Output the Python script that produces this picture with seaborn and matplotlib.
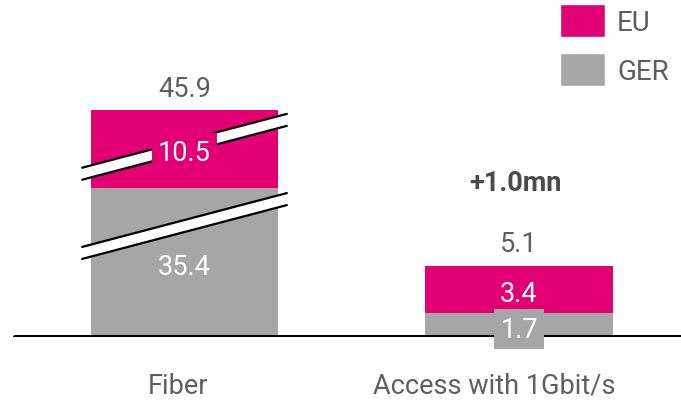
import numpy as np
import pandas as pd
import matplotlib
matplotlib.use("Agg")
import matplotlib.pyplot as plt
import matplotlib.transforms as mtransforms
from matplotlib.patches import Patch, Polygon
from matplotlib.lines import Line2D
import seaborn as sns

# ---- data -------------------------------------------------------------
categories = ["Fiber", "Access with 1Gbit/s"]
ger_values = [35.4, 1.7]
eu_values = [10.5, 3.4]
series_names = ["EU", "GER"]
growth_label = "+1.0mn"

# ---- style ------------------------------------------------------------
MAGENTA = "#E20074"
GREY = "#A6A6A6"
TEXT_GREY = "#5E5E5E"

sns.set_style("white")
plt.rcParams["font.family"] = ["Roboto", "DejaVu Sans"]
plt.rcParams["font.weight"] = "normal"

W, H, DPI = 681, 402, 100
fig = plt.figure(figsize=(W / DPI, H / DPI), dpi=DPI)
BASE_PX = 64
ax = fig.add_axes([0, BASE_PX / H, 1, 1 - BASE_PX / H])
AXES_H_PX = H - BASE_PX

# ---- broken y axis: linear with two compressed gaps --------------------
PX_PER_UNIT = 14.0
GAP_PX = 12.0
breaks = [(7.5, 33.1), (37.9, 43.7)]

knot_val, knot_px = [-10.0, 0.0], [-10.0 * PX_PER_UNIT, 0.0]
for lo, hi in breaks:
    knot_px.append(knot_px[-1] + (lo - knot_val[-1]) * PX_PER_UNIT)
    knot_val.append(lo)
    knot_px.append(knot_px[-1] + GAP_PX)
    knot_val.append(hi)
knot_px.append(knot_px[-1] + (90 - knot_val[-1]) * PX_PER_UNIT)
knot_val.append(90.0)
knot_val, knot_px = np.array(knot_val), np.array(knot_px)


def to_px(v):
    return np.interp(v, knot_val, knot_px)


def from_px(p):
    return np.interp(p, knot_px, knot_val)


ax.set_yscale("function", functions=(to_px, from_px))

# ---- bars -------------------------------------------------------------
df = pd.DataFrame({"category": categories, "GER": ger_values, "EU": eu_values})
df["total"] = df["GER"] + df["EU"]

BAR_W = 0.56
sns.barplot(data=df, x="category", y="total", color=MAGENTA, saturation=1,
            width=BAR_W, errorbar=None, linewidth=0, ax=ax, zorder=2)
sns.barplot(data=df, x="category", y="GER", color=GREY, saturation=1,
            width=BAR_W, errorbar=None, linewidth=0, ax=ax, zorder=2)

ax.set_xlim(-0.5516, 1.4843)
ax.set_ylim(0, from_px(AXES_H_PX))
ax.set_xlabel("")
ax.set_ylabel("")
ax.set_yticks([])
for s in ax.spines.values():
    s.set_visible(False)

# x in data units, y in pixels above the baseline (as axes fraction)
px_tr = mtransforms.blended_transform_factory(ax.transData, ax.transAxes)


def yfrac(px):
    return px / AXES_H_PX


# baseline
ax.axhline(0, xmin=15 / W, xmax=1, color="black", lw=2.9, zorder=4)

# break markers on bars that cross a gap
SLOPE = 88.0      # px per x unit
HALF = 0.306
for i, total in enumerate(df["total"]):
    for lo, hi in breaks:
        if total <= hi:
            continue
        yc = to_px(lo) + GAP_PX / 2
        xs = np.array([i - HALF, i + HALF])
        ys = yc + SLOPE * (xs - i)
        poly = Polygon([(xs[0], yfrac(ys[0] - GAP_PX / 2)),
                        (xs[1], yfrac(ys[1] - GAP_PX / 2)),
                        (xs[1], yfrac(ys[1] + GAP_PX / 2)),
                        (xs[0], yfrac(ys[0] + GAP_PX / 2))],
                       closed=True, facecolor="white", edgecolor="none",
                       transform=px_tr, zorder=3)
        ax.add_patch(poly)
        for sgn in (-1, 1):
            ax.add_line(Line2D(xs, yfrac(ys + sgn * GAP_PX / 2),
                               color="black", lw=1.6, transform=px_tr,
                               zorder=3))

# segment labels
VAL_FS = 19.5
for i, row in df.iterrows():
    segs = [(0.0, row["GER"], GREY, row["GER"], 7),
            (row["GER"], row["total"], MAGENTA, row["EU"], 6)]
    for lo, hi, col, val, z in segs:
        mid = (to_px(lo) + to_px(hi)) / 2 - 4
        ax.text(i, yfrac(mid), f"{val:.1f}", transform=px_tr,
                ha="center", va="center", color="white", fontsize=VAL_FS,
                zorder=z,
                bbox=dict(boxstyle="square,pad=0.24", fc=col, ec="none"))
    ax.text(i, yfrac(to_px(row["total"]) + 22), f"{row['total']:.1f}",
            transform=px_tr, ha="center", va="center", color=TEXT_GREY,
            fontsize=VAL_FS, zorder=5)

ax.text(0.99, yfrac(to_px(df["total"].iloc[1]) + 83), growth_label,
        transform=px_tr, ha="center", va="center", color="#4A4A4A",
        fontsize=19.5, fontweight="bold", zorder=5)

# category labels
ax.tick_params(axis="x", length=0, pad=25, labelsize=19.5, labelcolor=TEXT_GREY)
for lbl, dx in zip(ax.get_xticklabels(), [-6.5, -25]):
    lbl.set_transform(lbl.get_transform() +
                      mtransforms.ScaledTranslation(dx / DPI, 0, fig.dpi_scale_trans))

# legend
handles = [Patch(facecolor=MAGENTA, label=series_names[0]),
           Patch(facecolor=GREY, label=series_names[1])]
ax.legend(handles=handles, loc="upper left",
          bbox_to_anchor=(560 / W, 1 - 5 / H), bbox_transform=fig.transFigure,
          frameon=False, fontsize=20, labelcolor=TEXT_GREY, borderpad=0,
          borderaxespad=0, handlelength=1.62, handleheight=1.45,
          handletextpad=0.43, labelspacing=0.59)

fig.savefig("out.png", dpi=DPI)
